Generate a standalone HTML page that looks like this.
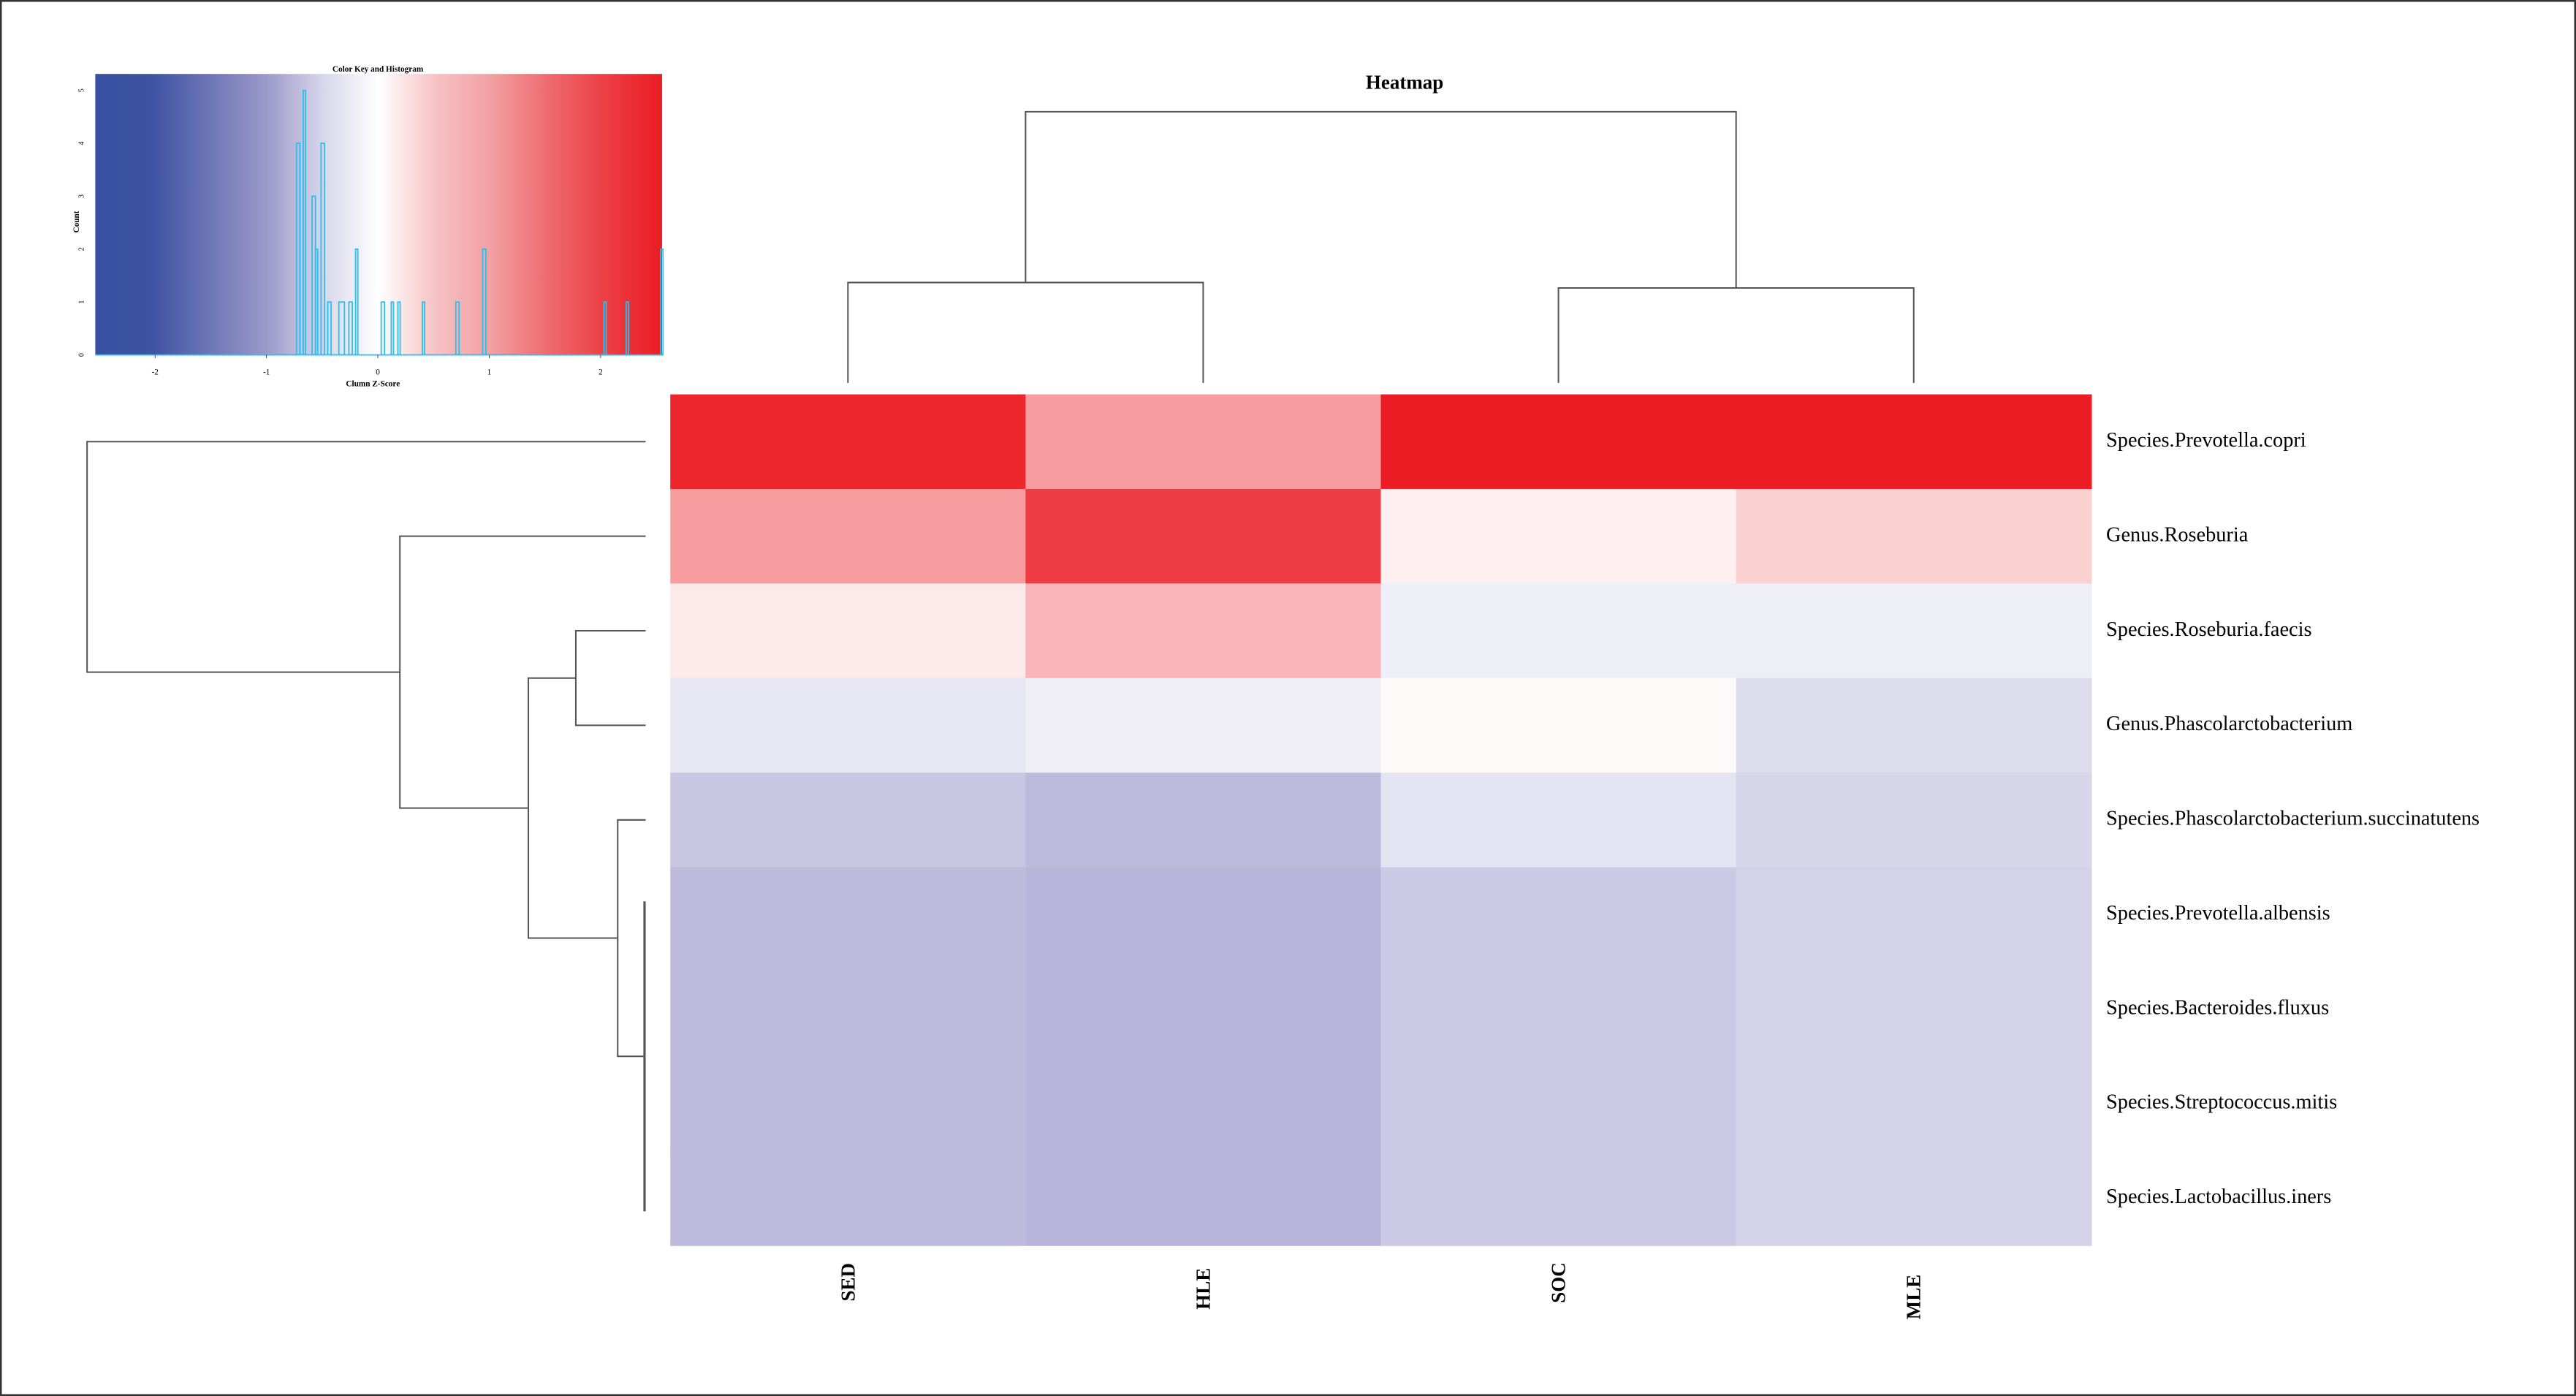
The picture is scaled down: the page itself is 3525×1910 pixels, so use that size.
<!DOCTYPE html>
<html><head><meta charset="utf-8"><style>
html,body{margin:0;padding:0;background:#fff;}
svg{display:block;font-family:"Liberation Serif",serif;}
</style></head><body>
<svg id="chart" width="3525" height="1910" viewBox="0 0 1568 849.6">
<defs>
<linearGradient id="keygrad" x1="0" x2="1" y1="0" y2="0">
<stop offset="0" stop-color="#3850a2"/>
<stop offset="0.10" stop-color="#3e53a3"/>
<stop offset="0.30" stop-color="#9a98c8"/>
<stop offset="0.40" stop-color="#d7d5ea"/>
<stop offset="0.50" stop-color="#ffffff"/>
<stop offset="0.60" stop-color="#f6c2c4"/>
<stop offset="0.70" stop-color="#f29ea1"/>
<stop offset="0.80" stop-color="#ee6a6e"/>
<stop offset="0.90" stop-color="#ec3f44"/>
<stop offset="1" stop-color="#ec1c24"/>
</linearGradient>
</defs>
<rect x="0.5" y="0.5" width="1567" height="848.6" fill="#fff" stroke="#333" stroke-width="1.2"/>
<text x="855" y="54" font-size="12" font-weight="bold" text-anchor="middle">Heatmap</text>
<g id="key"></g>
<g id="heat"></g>
<g id="coldend" fill="none" stroke="#555" stroke-width="0.9"></g>
<g id="rowdend" fill="none" stroke="#555" stroke-width="0.9"></g>
<g id="labels"></g>
</svg>
<script>
const columns = ["SED","HLE","SOC","MLE"];
const rows = ["Species.Prevotella.copri","Genus.Roseburia","Species.Roseburia.faecis","Genus.Phascolarctobacterium","Species.Phascolarctobacterium.succinatutens","Species.Prevotella.albensis","Species.Bacteroides.fluxus","Species.Streptococcus.mitis","Species.Lactobacillus.iners"];
const zSED = [2.39, 1.08, 0.24, -0.28, -0.65, -0.79, -0.79, -0.79, -0.79];
const zHLE = [1.08, 2.16, 0.82, -0.18, -0.79, -0.85, -0.85, -0.85, -0.85];
const zSOC = [2.5, 0.17, -0.2, 0.07, -0.32, -0.62, -0.62, -0.62, -0.62];
const zMLE = [2.5, 0.52, -0.2, -0.4, -0.48, -0.52, -0.52, -0.52, -0.52];
const keyTicks = [-2, -1, 0, 1, 2];
const countTicks = [0, 1, 2, 3, 4, 5];
const binStart = [-0.73,-0.67,-0.59,-0.56,-0.51,-0.45,-0.35,-0.26,-0.20,0.03,0.12,0.18,0.40,0.70,0.94,2.03,2.23,2.54];
const binEnd   = [-0.70,-0.65,-0.56,-0.54,-0.48,-0.42,-0.30,-0.23,-0.18,0.06,0.14,0.20,0.42,0.73,0.97,2.05,2.25,2.56];
const binCount = [4,5,3,2,4,1,1,1,2,1,1,1,1,1,2,1,1,2];
const colMergeH = [0.37, 0.35, 1.0];
const rowMergeD = [1.0, 0.44, 0.21, 0.125, 0.05, 0.002];

const NS="http://www.w3.org/2000/svg";
function mk(tag, attrs, parent){const e=document.createElementNS(NS,tag);for(const k in attrs)e.setAttribute(k,attrs[k]);parent.appendChild(e);return e;}

function lerp(a,b,f){return a+(b-a)*f;}
function color(z){
  const t=Math.max(-1,Math.min(1,z/2.5));
  let c;
  if(t<0){
    const f=-t;
    const W=[255,255,255],M=[150,146,200],B=[56,80,162];
    if(f<=0.5){const g=f/0.5;c=[0,1,2].map(k=>lerp(W[k],M[k],g));}
    else{const g=(f-0.5)/0.5;c=[0,1,2].map(k=>lerp(M[k],B[k],g));}
  } else {
    c=[lerp(255,236,t),lerp(255,28,t),lerp(255,36,t)];
  }
  return `rgb(${Math.round(c[0])},${Math.round(c[1])},${Math.round(c[2])})`;
}
const HX0=408,HX1=1273,HY0=240,HY1=758;
const cw=(HX1-HX0)/columns.length, rh=(HY1-HY0)/rows.length;
const xCol=i=>HX0+i*cw, yRow=j=>HY0+j*rh;
const zCols=[zSED,zHLE,zSOC,zMLE];
const heat=document.getElementById('heat');
zCols.forEach((arr,i)=>arr.forEach((z,j)=>{
  const r=mk('rect',{x:xCol(i),y:yRow(j),width:cw+0.3,height:rh+0.3,fill:color(z)},heat);
  
  
}));
const labels=document.getElementById('labels');
rows.forEach((n,j)=>{
  const t=mk('text',{x:1282,y:yRow(j)+rh/2+3,'font-size':12.6},labels);
  t.textContent=n;
  
  
});
const colLabelBottom=[792,797,793,803];
columns.forEach((n,i)=>{
  const cx=xCol(i)+cw/2+4, cy=colLabelBottom[i];
  const t=mk('text',{x:cx,y:cy,'font-size':12,'font-weight':'bold',transform:`rotate(-90 ${cx} ${cy})`},labels);
  t.textContent=n;
  
  
});

const cd=document.getElementById('coldend');
const leafY=233, topY=68, hScale=leafY-topY;
const hy=h=>leafY-h*hScale;
const cc=i=>xCol(i)+cw/2;
const yA=hy(colMergeH[0]), yB=hy(colMergeH[1]), yR=hy(colMergeH[2]);
const mA=(cc(0)+cc(1))/2, mB=(cc(2)+cc(3))/2;
let p;
p=mk('path',{d:`M${cc(0)},${leafY}V${yA}H${cc(1)}V${leafY}`},cd);
p=mk('path',{d:`M${cc(2)},${leafY}V${yB}H${cc(3)}V${leafY}`},cd);
p=mk('path',{d:`M${mA},${yA}V${yR}H${mB}V${yB}`},cd);

const rd=document.getElementById('rowdend');
const leafX=393, rootX=53;
const dx=d=>leafX-d*(leafX-rootX);
const rc=j=>yRow(j)+rh/2;
const xE=dx(rowMergeD[5]), yE=(rc(5)+rc(8))/2;
p=mk('path',{d:`M${xE},${rc(5)-8}V${rc(8)+8}`,'stroke-width':1.4},rd);
const xD=dx(rowMergeD[4]), yD=(rc(4)+yE)/2;
p=mk('path',{d:`M${leafX},${rc(4)}H${xD}V${yE}H${xE}`},rd);
const xC=dx(rowMergeD[3]), yC=(rc(2)+rc(3))/2;
p=mk('path',{d:`M${leafX},${rc(2)}H${xC}V${rc(3)}H${leafX}`},rd);
const xB=dx(rowMergeD[2]), yB2=(yC+yD)/2;
p=mk('path',{d:`M${xC},${yC}H${xB}V${yD}H${xD}`},rd);
const xA=dx(rowMergeD[1]), yA2=(rc(1)+yB2)/2;
p=mk('path',{d:`M${leafX},${rc(1)}H${xA}V${yB2}H${xB}`},rd);
const xR=dx(rowMergeD[0]);
p=mk('path',{d:`M${leafX},${rc(0)}H${xR}V${yA2}H${xA}`},rd);

const key=document.getElementById('key');
const KX0=58,KX1=403,KY0=45,KY1=216;
const kx=z=>230+z*67.8;
const ky=c=>KY1-c*32.2;
p=mk('rect',{x:KX0,y:KY0,width:KX1-KX0,height:KY1-KY0,fill:'url(#keygrad)'},key);
let t=mk('text',{x:230,y:43.5,'font-size':5,'font-weight':'bold','text-anchor':'middle'},key);t.textContent='Color Key and Histogram';

binCount.forEach((c,i)=>{
  const r=mk('rect',{x:kx(binStart[i]),y:ky(c),width:Math.max(0.8,kx(binEnd[i])-kx(binStart[i])),height:KY1-ky(c),fill:'none',stroke:'#29c0ef','stroke-width':0.8},key);
  
  
});
p=mk('line',{x1:KX0,x2:KX1,y1:KY1,y2:KY1,stroke:'#29c0ef','stroke-width':0.8},key);
keyTicks.forEach(v=>{
  mk('line',{x1:kx(v),x2:kx(v),y1:KY1,y2:KY1+2,stroke:'#333','stroke-width':0.4},key);
  const tt=mk('text',{x:kx(v),y:228,'font-size':5,'text-anchor':'middle'},key);tt.textContent=v;
  
});
t=mk('text',{x:227,y:235,'font-size':5,'font-weight':'bold','text-anchor':'middle'},key);t.textContent='Clumn Z-Score';

countTicks.forEach(c=>{
  const y=ky(c);
  const tt=mk('text',{x:51,y:y,'font-size':4.5,'text-anchor':'middle',transform:`rotate(-90 51 ${y})`},key);tt.textContent=c;
  
});
t=mk('text',{x:48,y:135,'font-size':5,'font-weight':'bold','text-anchor':'middle',transform:'rotate(-90 48 135)'},key);t.textContent='Count';

</script>
</body></html>
